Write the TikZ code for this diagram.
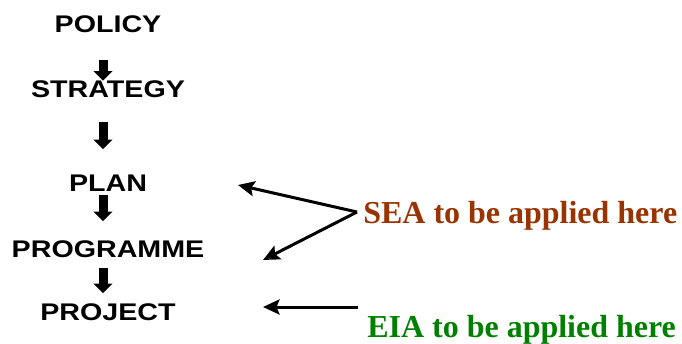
\documentclass[tikz,border=0pt]{standalone}
\usepackage{fontspec}
\usepackage{tikz}
\usetikzlibrary{arrows.meta}
\newfontfamily\stagefont[FakeStretch=1.19]{Liberation Sans}
\newfontfamily\notefont{Liberation Serif}
\definecolor{seabrown}{RGB}{153,51,0}
\definecolor{eiagreen}{RGB}{0,128,0}
\tikzset{
  stage/.style={inner sep=0pt, text height=0.344cm, text depth=0pt, font=\stagefont\bfseries\fontsize{13.7}{16}\selectfont},
  note/.style={inner sep=0pt, anchor=base west, font=\notefont\bfseries\fontsize{18.2}{22}\selectfont},
  blockarrow/.style={line width=0.18cm, -{Triangle[width=0.37cm, length=0.19cm]}},
  pointer/.style={line width=0.06cm, -{Stealth[length=0.33cm, width=0.3cm, inset=0.06cm]}}
}

\begin{document}
\begin{tikzpicture}[x=0.02cm, y=-0.02cm]
        \useasboundingbox (0,0) rectangle (682,344);

        \node[stage] (policy)    at (108,23.5) {POLICY};
        \node[stage] (strategy)  at (108,88.5) {STRATEGY};
        \node[stage] (plan)      at (108,183)  {PLAN};
        \node[stage] (programme) at (108,249)  {PROGRAMME};
        \node[stage] (project)   at (108,312)  {PROJECT};

        \draw[blockarrow] ([shift={(-5,28)}]policy.south)    -- ([shift={(-5,1)}]strategy.north);
        \draw[blockarrow] ([shift={(-5,25)}]strategy.south)  -- ([shift={(-5,-25)}]plan.north);
        \draw[blockarrow] ([shift={(-5,3)}]plan.south)       -- ([shift={(-5,-19)}]programme.north);
        \draw[blockarrow] ([shift={(-5,10)}]programme.south) -- ([shift={(-5,-10)}]project.north);

        \node[note, text=seabrown] (sea) at (363,223) {SEA to be applied here};
        \node[note, text=eiagreen] (eia) at (367,337) {EIA to be applied here};

        \coordinate (seafork)  at (357,212);
        \coordinate (plantip)  at (238,185);
        \coordinate (progtip)  at (263,260);
        \coordinate (eiastart) at (358,307);
        \coordinate (projtip)  at (263,307);

        \draw[pointer] (seafork) -- (plantip);
        \draw[pointer] (seafork) -- (progtip);
        \draw[pointer] (eiastart) -- (projtip);
\end{tikzpicture}
\end{document}
